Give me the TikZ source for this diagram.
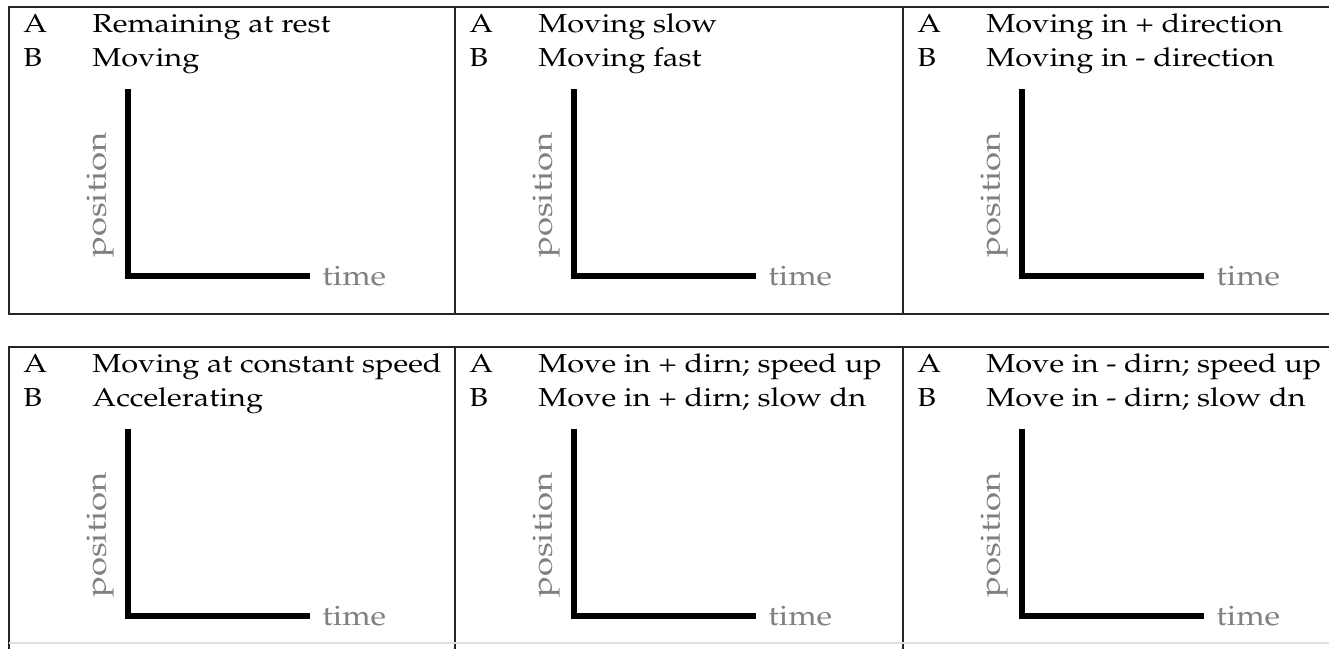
\documentclass[tikz,border=0pt]{standalone}
\usepackage[T1]{fontenc}
\usepackage{mathpazo}
\usepackage{graphicx}
\newcommand{\widetext}[1]{\scalebox{1.18}[1]{#1}}
\newcommand{\graphcell}[5]{%
  \node[lbl] (la#1) at (#2+14,#3+25) {\widetext{A}};
  \node[lbl] (lb#1) at (#2+14,#3+59) {\widetext{B}};
  \node[lbl] (ta#1) at (#2+83,#3+25) {\widetext{#4}};
  \node[lbl] (tb#1) at (#2+83,#3+59) {\widetext{#5}};
  \coordinate (top#1) at (#2+119,#3+85);
  \coordinate (org#1) at (#2+119,#3+269);
  \coordinate (end#1) at (#2+298,#3+269);
  \draw[axisline] (top#1) -- (org#1) -- (end#1);
  \node[axlbl, anchor=base west] (time#1) at (#2+313,#3+278) {\scalebox{1.15}[1]{time}};
  \node[axlbl, rotate=90] (pos#1) at (#2+91,#3+188) {\scalebox{1.24}[1]{position}};
}
\begin{document}
\begin{tikzpicture}[x=0.5pt,y=-0.5pt,
  border/.style={line width=0.9pt, draw=black!85},
  axisline/.style={line width=2.6pt, line cap=rect, line join=miter},
  lbl/.style={anchor=base west, inner sep=0pt, text=black, font=\fontsize{13}{15}\selectfont},
  axlbl/.style={inner sep=0pt, text=black!50, font=\fontsize{14}{16}\selectfont}]
\useasboundingbox (0,0) rectangle (1335,649);
\fill[white] (0,0) rectangle (1335,649);
% table frames
\draw[border] (1329,7) -- (9,7) -- (9,314) -- (1329,314);
\draw[border] (455,7) -- (455,314);
\draw[border] (903,7) -- (903,314);
\draw[border] (1329,347) -- (9,347) -- (9,649);
\draw[border] (455,347) -- (455,649);
\draw[border] (903,347) -- (903,649);
\draw[black!12, line width=0.6pt] (9,643) -- (1329,643);
% cells
\graphcell{1}{9}{7}{Remaining at rest}{Moving}
\graphcell{2}{455}{7}{Moving slow}{Moving fast}
\graphcell{3}{903}{7}{Moving in + direction}{Moving in - direction}
\graphcell{4}{9}{347}{Moving at constant speed}{Accelerating}
\graphcell{5}{455}{347}{Move in + dirn; speed up}{Move in + dirn; slow dn}
\graphcell{6}{903}{347}{Move in - dirn; speed up}{Move in - dirn; slow dn}
\end{tikzpicture}
\end{document}
